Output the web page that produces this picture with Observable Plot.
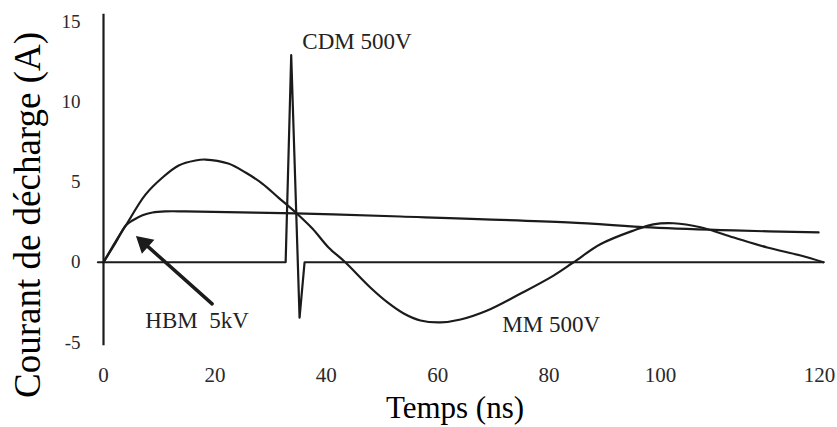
<!DOCTYPE html>
<html>
<head>
<meta charset="utf-8">
<script src="https://cdn.jsdelivr.net/npm/d3@7"></script>
<script src="https://cdn.jsdelivr.net/npm/@observablehq/plot@0.6"></script>
<style>
  html, body { margin: 0; padding: 0; background: #ffffff; }
  svg, svg text, svg g { font-family: "Liberation Serif", "Times New Roman", serif !important; }
  svg text { white-space: pre; }
</style>
</head>
<body>
<div id="chart"></div>
<script>
// ---- data ----
const xTitle = "Temps (ns)";
const yTitle = "Courant de décharge (A)";
const xTicks = [0, 20, 40, 60, 80, 100];
const xLastTick = [120];
const yTicks = [-5, 0, 5, 10, 15];

// MM 500V (damped oscillation)
const mmT = [0, 2.2, 4.0, 7.5, 10.6, 13.5, 16.5, 18.3, 22.4, 25.5, 28.5, 31.4, 34.5, 37.5, 40.4, 43.4, 47.9, 51.0, 53.9, 56.9, 60.5, 64.1, 68.9, 74.9, 80.8, 84.4, 89.2, 95.2, 98.7, 101.6, 104.9, 109.0, 113.1, 117.2, 120];
const mmI = [0, 1.3, 2.29, 4.2, 5.28, 6.03, 6.34, 6.4, 6.15, 5.59, 4.9, 4.03, 3.1, 2.1, 0.92, 0, -1.57, -2.5, -3.19, -3.63, -3.75, -3.57, -3.01, -1.95, -0.83, 0, 1.12, 1.98, 2.36, 2.43, 2.18, 1.54, 0.92, 0.42, 0];

// HBM 5kV (fast rise, slow decay)
const hbmT = [0, 2.2, 4.0, 5.2, 7.0, 8.8, 11.1, 14.7, 34.5, 53.3, 83.3, 98.2, 109.0, 119.4];
const hbmI = [0, 1.23, 2.29, 2.6, 2.93, 3.1, 3.17, 3.17, 3.04, 2.85, 2.48, 2.17, 1.98, 1.86];

// CDM 500V (very short spike, zero elsewhere)
const cdmT = [-1, 32.7, 33.7, 35.2, 36.1, 120];
const cdmI = [0, 0, 12.9, -3.45, 0, 0];

// vertical axis line extent (A)
const axisLineI = [-5.2, 15.45];

// annotations
const labelText = ["CDM 500V", "HBM  5kV", "MM 500V"];
const labelT = [35.7, 7.5, 71.6];
const labelI = [13.26, -4.08, -4.36];
const arrowTail = [19.5, -2.59];
const arrowTip = [5.83, 1.64];

// ---- tables built from the arrays ----
const mm = mmT.map((t, i) => ({t, i: mmI[i]}));
const hbm = hbmT.map((t, i) => ({t, i: hbmI[i]}));
const cdm = cdmT.map((t, i) => ({t, i: cdmI[i]}));
const labels = labelText.map((s, k) => ({s, t: labelT[k], i: labelI[k]}));
const arrow = [{t1: arrowTail[0], i1: arrowTail[1], t2: arrowTip[0], i2: arrowTip[1]}];

const ink = "#1b1b1b";
const serif = "Liberation Serif";
const fmt = d => String(d);

const plot = Plot.plot({
  width: 837,
  height: 427,
  marginLeft: 103,
  marginRight: 14,
  marginTop: 21,
  marginBottom: 85,
  style: {fontFamily: serif, background: "#ffffff", color: ink, overflow: "visible"},
  x: {type: "linear", domain: [0, 100, 120], range: [103, 660, 823]},
  y: {domain: [-5, 15], range: [342, 21]},
  marks: [
    Plot.axisX(xTicks, {tickSize: 0, tickPadding: 25, fontSize: 21, fontFamily: serif, label: null, color: "#2a2a2a", tickFormat: fmt}),
    Plot.axisX(xLastTick, {tickSize: 0, tickPadding: 25, fontSize: 21, fontFamily: serif, label: null, color: "#2a2a2a", tickFormat: fmt, dx: -4}),
    Plot.axisY(yTicks, {tickSize: 0, tickPadding: 23, fontSize: 19, fontFamily: serif, label: null, color: "#2a2a2a", tickFormat: fmt}),
    Plot.ruleX([0], {y1: axisLineI[0], y2: axisLineI[1], stroke: ink, strokeWidth: 2.2}),
    Plot.line(cdm, {x: "t", y: "i", stroke: ink, strokeWidth: 2.2}),
    Plot.line(hbm, {x: "t", y: "i", stroke: ink, strokeWidth: 2.2, curve: "catmull-rom"}),
    Plot.line(mm, {x: "t", y: "i", stroke: ink, strokeWidth: 2.2, curve: "catmull-rom"}),
    Plot.arrow(arrow, {x1: "t1", y1: "i1", x2: "t2", y2: "i2", stroke: ink, strokeWidth: 3.5, headLength: 0, insetEnd: 9}),
    Plot.dot(arrow, {x: "t2", y: "i2", symbol: "triangle", r: 7, rotate: -48.3, fill: ink, stroke: "none", dx: 8.1, dy: 7.2}),
    Plot.text(labels, {x: "t", y: "i", text: "s", textAnchor: "start", lineAnchor: "bottom", fontSize: 23, fontFamily: serif, fill: "#222"})
  ]
});

const svg = d3.select(plot);
svg.append("text")
  .attr("transform", "translate(40,215) rotate(-90)")
  .attr("text-anchor", "middle")
  .attr("font-size", 37)
  .attr("font-family", serif)
  .attr("fill", "#000")
  .text(yTitle);
svg.append("text")
  .attr("x", 455)
  .attr("y", 418)
  .attr("text-anchor", "middle")
  .attr("font-size", 31)
  .attr("font-family", serif)
  .attr("fill", "#000")
  .text(xTitle);

document.getElementById("chart").appendChild(plot);
</script>
</body>
</html>
